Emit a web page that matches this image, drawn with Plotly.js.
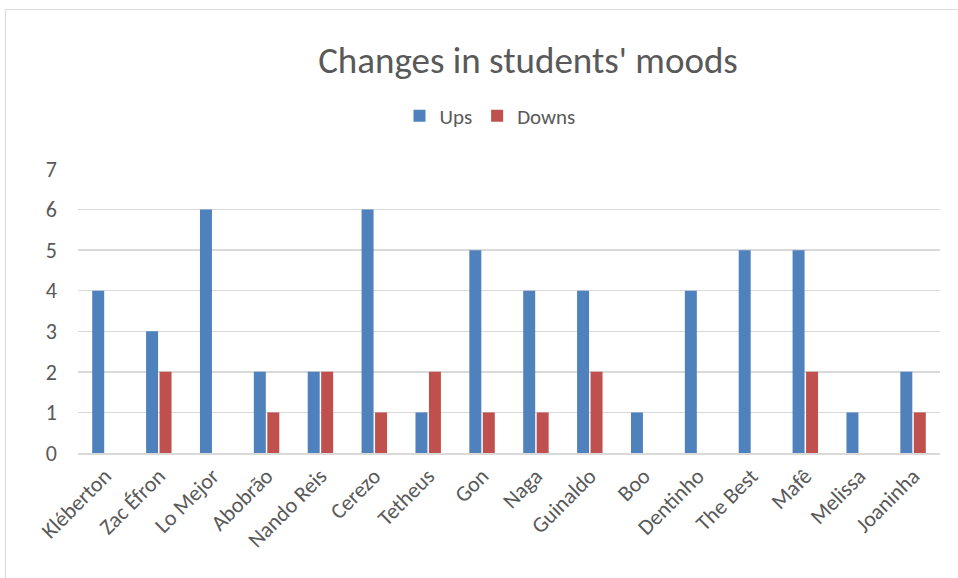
<!DOCTYPE html>
<html>
<head>
<meta charset="utf-8">
<script src="https://cdn.plot.ly/plotly-3.0.1.min.js"></script>
<style>
  html, body { margin: 0; padding: 0; background: #fff; overflow: hidden; }
  #frame { position: absolute; left: 5px; top: 9px; width: 1000px; height: 620px; border: 1.5px solid #d9d9d9; box-sizing: border-box; }
  #chart { position: absolute; left: 0; top: 0; width: 958px; height: 578px; }
</style>
</head>
<body>
<div id="frame"></div>
<div id="chart"></div>
<script>
const categories = ["Kléberton", "Zac Éfron", "Lo Mejor", "Abobrão", "Nando Reis", "Cerezo", "Tetheus", "Gon", "Naga", "Guinaldo", "Boo", "Dentinho", "The Best", "Mafê", "Melissa", "Joaninha"];
const ups   = [4, 3, 6, 2, 2, 6, 1, 5, 4, 4, 1, 4, 5, 5, 1, 2];
const downs = [0, 2, 0, 1, 2, 1, 2, 1, 1, 2, 0, 0, 0, 2, 0, 1];
const yTicks = [0, 1, 2, 3, 4, 5, 6, 7];

const FONT = "Carlito, 'Liberation Sans Narrow', 'Open Sans', sans-serif";
const traces = [
  { type: "bar", name: "Ups", x: categories, y: ups, marker: { color: "#4F81BD" } },
  { type: "bar", name: "Downs", x: categories, y: downs, marker: { color: "#C0504D" } }
];
const layout = {
  width: 958, height: 578,
  paper_bgcolor: "rgba(0,0,0,0)", plot_bgcolor: "rgba(0,0,0,0)",
  margin: { l: 78, r: 18, t: 169, b: 125 },
  font: { family: FONT, color: "#595959", size: 21 },
  title: { text: "Changes in students' moods", font: { size: 37, color: "#595959", family: FONT },
           x: 528/958, xref: "container", xanchor: "center", y: 1 - 60/578, yref: "container", yanchor: "middle" },
  barmode: "group", bargap: 0.5, bargroupgap: 0.11,
  showlegend: true,
  legend: { orientation: "h", x: 490/958, xref: "container", xanchor: "center", y: 1 - 116/578, yref: "container", yanchor: "middle",
            font: { size: 21, color: "#595959" }, itemwidth: 30, traceorder: "normal" },
  xaxis: { type: "category", tickangle: -45, showgrid: false, showline: true, linecolor: "#d9d9d9", linewidth: 1.5,
           ticks: "", tickfont: { size: 22, color: "#595959" }, fixedrange: true },
  yaxis: { range: [0, 7], tickvals: yTicks, showgrid: true, gridcolor: "#d9d9d9", gridwidth: 1.5,
           zeroline: false, showline: false, ticks: "", ticklen: 0, ticklabelstandoff: 20,
           tickfont: { size: 22, color: "#595959" }, fixedrange: true }
};
Plotly.newPlot("chart", traces, layout, { displayModeBar: false, staticPlot: true });
</script>
</body>
</html>
